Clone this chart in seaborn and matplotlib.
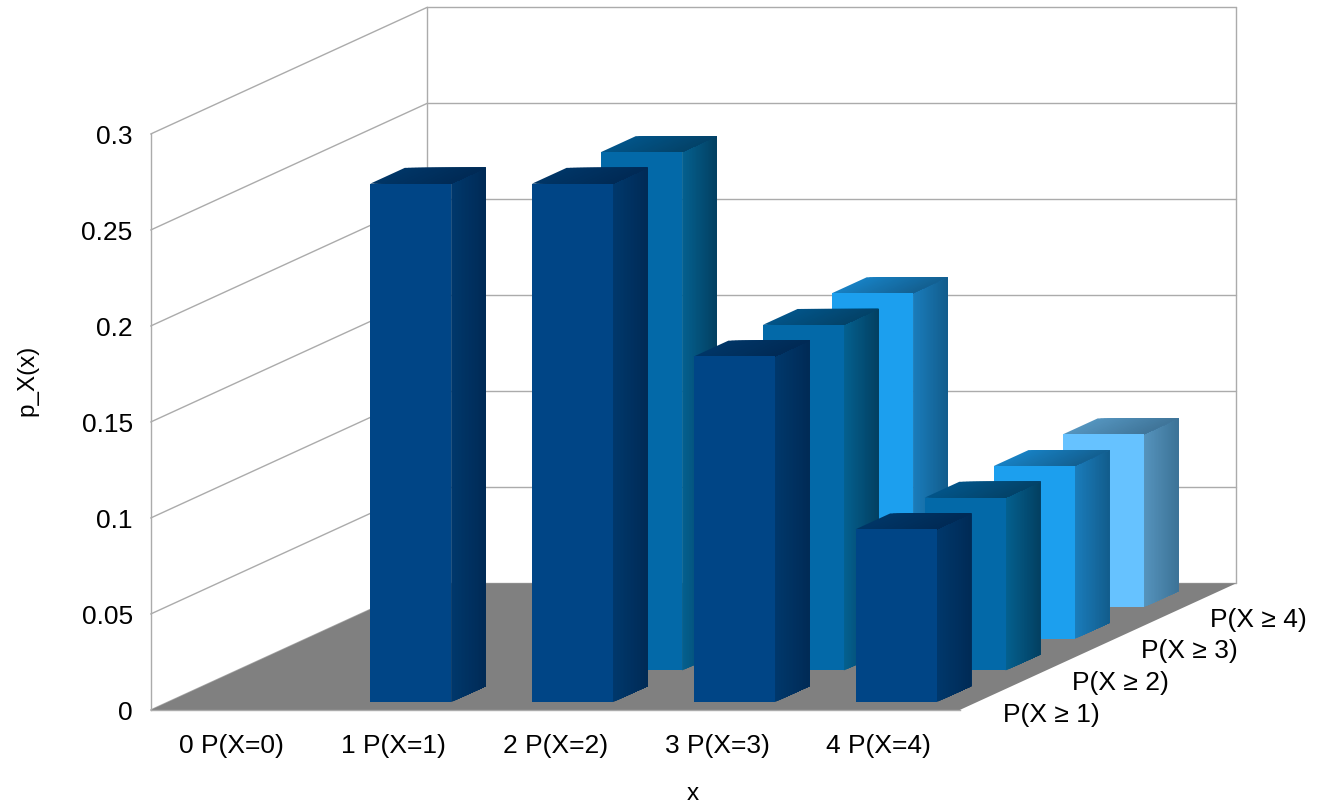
import numpy as np
import pandas as pd
import matplotlib
matplotlib.use("Agg")
import matplotlib.pyplot as plt
from matplotlib.collections import PolyCollection
from matplotlib.colors import to_rgb
from matplotlib.patches import Polygon
from matplotlib.transforms import Affine2D
import seaborn as sns

# ---- data ----
x_labels = ["0 P(X=0)", "1 P(X=1)", "2 P(X=2)", "3 P(X=3)", "4 P(X=4)"]
series_names = ["P(X ≥ 1)", "P(X ≥ 2)", "P(X ≥ 3)", "P(X ≥ 4)"]
p_ge_1 = [np.nan, 0.27, 0.27, 0.18, 0.09]
p_ge_2 = [np.nan, np.nan, 0.27, 0.18, 0.09]
p_ge_3 = [np.nan, np.nan, np.nan, 0.18, 0.09]
p_ge_4 = [np.nan, np.nan, np.nan, np.nan, 0.09]
y_ticks = [0, 0.05, 0.1, 0.15, 0.2, 0.25, 0.3]
y_tick_labels = ["0", "0.05", "0.1", "0.15", "0.2", "0.25", "0.3"]

# ---- colours per series: front, side (near/far), top (left/right) ----
front_colors = ["#004586", "#0369A8", "#1C9FEE", "#66C2FF"]
side_colors = [("#00386C", "#002A55"), ("#04608F", "#033F60"),
               ("#1A7CBB", "#125C8B"), ("#5593BC", "#3C7296")]
top_colors = [("#003566", "#002A55"), ("#025488", "#034268"),
              ("#1780C2", "#135F90"), ("#5494BE", "#3F7498")]
GRID = "#ABABAB"
FLOOR = "#808080"

# ---- oblique projection: one series row moves right and up by a fixed step ----
W, H = 1325, 803
CAT_PX, VAL_PX = 161.8, 1920.0
X0_PX, Y0_PX = 150.7, 710.0
STEP_X = 276.6 / 4 / CAT_PX
STEP_Y = 126.7 / 4 / VAL_PX
N_ROWS = len(series_names)
N_CATS = len(x_labels)
BAR_W = 0.5


def shift(depth):
    return Affine2D().translate(depth * STEP_X, depth * STEP_Y)


def project(c, depth, v):
    return c + depth * STEP_X, v + depth * STEP_Y


def blend(a, b, t):
    a, b = np.array(to_rgb(a)), np.array(to_rgb(b))
    return tuple(a + (b - a) * t)


sns.set_theme(style="white")
plt.rcParams["font.family"] = ["Liberation Sans", "DejaVu Sans"]

# the half pixel keeps the canvas from rounding down to one row fewer
fig = plt.figure(figsize=(W / 100, (H + 0.5) / 100), dpi=100)
ax = fig.add_axes([0, 0, 1, 1])

# walls and gridlines
back = N_ROWS
top = y_ticks[-1]
for v in y_ticks:
    ax.plot(*zip(project(0, 0, v), project(0, back, v)), color=GRID, lw=1.0, zorder=1)
    ax.plot(*zip(project(0, back, v), project(N_CATS, back, v)), color=GRID, lw=1.0, zorder=1)
ax.plot(*zip(project(0, back, 0), project(0, back, top)), color=GRID, lw=1.0, zorder=1)
ax.plot(*zip(project(N_CATS, back, 0), project(N_CATS, back, top)), color=GRID, lw=1.0, zorder=1)

# floor
ax.add_patch(Polygon([project(0, 0, 0), project(N_CATS, 0, 0),
                      project(N_CATS, back, 0), project(0, back, 0)],
                     closed=True, facecolor=FLOOR, edgecolor="none", zorder=2))

centers = np.arange(N_CATS) + 0.5
rows = [p_ge_1, p_ge_2, p_ge_3, p_ge_4]
STRIPS = 24

# back row first so nearer rows overlap it
for r in reversed(range(N_ROWS)):
    table = pd.DataFrame({"x": centers, "p": rows[r]}).dropna()
    d0, d1 = r + 0.25, r + 0.75
    z = 10 + (N_ROWS - r)

    before = len(ax.patches)
    sns.barplot(data=table, x="x", y="p", native_scale=True, width=BAR_W, ax=ax,
                color=front_colors[r], saturation=1, errorbar=None, linewidth=0)
    for bar in ax.patches[before:]:
        bar.set_transform(shift(d0) + ax.transData)
        bar.set_zorder(z + 0.5)

    # side and top faces shade across their width; each band runs to the far
    # end of the face and the next one paints over it, which leaves no seams
    for c, v in zip(table["x"], table["p"]):
        left, right = c - BAR_W / 2, c + BAR_W / 2
        side, side_c, cap, cap_c = [], [], [], []
        for t in np.linspace(0, 1, STRIPS, endpoint=False):
            a = d0 + (d1 - d0) * t
            side.append([project(right, a, 0), project(right, d1, 0),
                         project(right, d1, v), project(right, a, v)])
            side_c.append(blend(*side_colors[r], t))
            l = left + (right - left) * t
            cap.append([project(l, d0, v), project(right, d0, v),
                        project(right, d1, v), project(l, d1, v)])
            cap_c.append(blend(*top_colors[r], t))
        ax.add_collection(PolyCollection(side, facecolors=side_c, edgecolors="none",
                                         zorder=z), autolim=False)
        ax.add_collection(PolyCollection(cap, facecolors=cap_c, edgecolors="none",
                                         zorder=z), autolim=False)

# the axes fill the figure, so limits follow from the pixel scale
ax.set_xlim(-X0_PX / CAT_PX, (W - X0_PX) / CAT_PX)
ax.set_ylim((Y0_PX - H) / VAL_PX, (Y0_PX + 0.5) / VAL_PX)
ax.patch.set_alpha(0)

for name in ("top", "right"):
    ax.spines[name].set_visible(False)
for name in ("left", "bottom"):
    ax.spines[name].set_position(("data", 0))
    ax.spines[name].set_color(GRID)
    ax.spines[name].set_linewidth(1.0)
ax.spines["left"].set_bounds(0, top)
ax.spines["bottom"].set_bounds(0, N_CATS)

ax.set_yticks(y_ticks, y_tick_labels)
ax.set_xticks(centers, x_labels)
ax.tick_params(axis="y", length=0, pad=13, labelsize=19, labelcolor="black")
ax.tick_params(axis="x", length=0, pad=17, labelsize=19, labelcolor="black")

ax.set_xlabel("x", fontsize=17.5, color="black", va="center")
ax.set_ylabel("p_X(x)", fontsize=17.5, color="black", va="center")
ax.xaxis.set_label_coords(693 / W, 1 - 794 / H)
ax.yaxis.set_label_coords(27 / W, 1 - 380 / H)

# series names along the floor's right edge
for r, name in enumerate(series_names):
    ax.annotate(name, xy=project(N_CATS, r + 0.5, 0), xytext=(6, -14.5),
                textcoords="offset points", ha="left", va="center",
                fontsize=19, color="black", zorder=30)

fig.savefig("out.png", dpi=100, facecolor="white")
